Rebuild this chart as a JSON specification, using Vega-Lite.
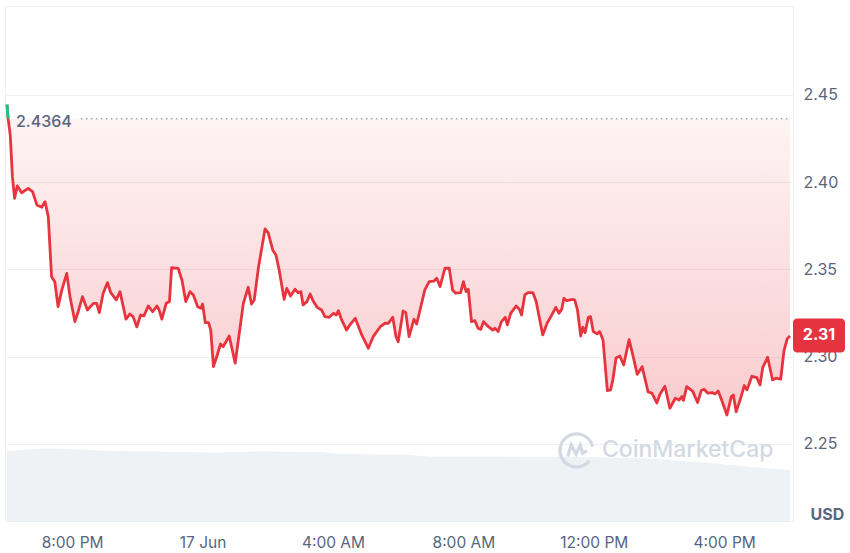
{
  "$schema": "https://vega.github.io/schema/vega-lite/v6.json",
  "width": 788,
  "height": 515,
  "autosize": {"type": "none"},
  "padding": {"left": 5, "top": 6, "right": 57, "bottom": 32},
  "background": "white",
  "config": {"view": {"stroke": "#eef1f4", "strokeWidth": 1}, "font": "Inter"},
  "resolve": {"scale": {"y": "independent"}},
  "layer": [
    {
      "data": {"values": [
        {"t": "2025-06-16T18:00:00Z", "v": 70},
        {"t": "2025-06-16T19:06:00Z", "v": 72.5},
        {"t": "2025-06-16T19:56:00Z", "v": 72},
        {"t": "2025-06-16T20:51:00Z", "v": 70.5},
        {"t": "2025-06-16T22:23:00Z", "v": 69.5},
        {"t": "2025-06-17T00:23:00Z", "v": 68.5},
        {"t": "2025-06-17T01:46:00Z", "v": 69.5},
        {"t": "2025-06-17T03:40:00Z", "v": 69},
        {"t": "2025-06-17T04:13:00Z", "v": 67},
        {"t": "2025-06-17T06:09:00Z", "v": 66.5},
        {"t": "2025-06-17T06:58:00Z", "v": 64.5},
        {"t": "2025-06-17T11:53:00Z", "v": 64},
        {"t": "2025-06-17T13:34:00Z", "v": 62.5},
        {"t": "2025-06-17T14:33:00Z", "v": 60.5},
        {"t": "2025-06-17T15:34:00Z", "v": 58},
        {"t": "2025-06-17T16:51:00Z", "v": 54},
        {"t": "2025-06-17T17:43:00Z", "v": 52},
        {"t": "2025-06-17T18:01:00Z", "v": 51}
      ], "format": {"parse": {"t": "date"}}},
      "mark": {"type": "area", "color": "#eff2f5"},
      "encoding": {
        "x": {"field": "t", "type": "temporal",
          "scale": {"type": "utc", "domain": [{"year": 2025, "month": 6, "date": 16, "hours": 17, "minutes": 56, "seconds": 20, "utc": true}, {"year": 2025, "month": 6, "date": 17, "hours": 18, "minutes": 6, "seconds": 40, "utc": true}]},
          "axis": {
            "title": null, "grid": false, "domain": false, "ticks": false,
            "values": [
              {"year": 2025, "month": 6, "date": 16, "hours": 20, "utc": true},
              {"year": 2025, "month": 6, "date": 17, "hours": 0, "utc": true},
              {"year": 2025, "month": 6, "date": 17, "hours": 4, "utc": true},
              {"year": 2025, "month": 6, "date": 17, "hours": 8, "utc": true},
              {"year": 2025, "month": 6, "date": 17, "hours": 12, "utc": true},
              {"year": 2025, "month": 6, "date": 17, "hours": 16, "utc": true}
            ],
            "labelExpr": "utchours(datum.value) == 0 ? utcFormat(datum.value, '%-d %b') : utcFormat(datum.value, '%-I:%M %p')",
            "labelFontSize": 15.5, "labelColor": "#58667e", "labelPadding": 14, "labelFont": "Inter"
          }
        },
        "y": {"field": "v", "type": "quantitative", "scale": {"domain": [0, 515]}, "axis": null}
      }
    },
    {
      "layer": [
        {
          "data": {"values": [
{"t":"2025-06-16T18:00:00Z","p":2.4445},{"t":"2025-06-16T18:02:00Z","p":2.4366},{"t":"2025-06-16T18:06:00Z","p":2.4271},{"t":"2025-06-16T18:10:00Z","p":2.4032},{"t":"2025-06-16T18:14:00Z","p":2.3908},{"t":"2025-06-16T18:19:00Z","p":2.3979},{"t":"2025-06-16T18:27:00Z","p":2.3940},{"t":"2025-06-16T18:39:00Z","p":2.3965},{"t":"2025-06-16T18:47:00Z","p":2.3946},{"t":"2025-06-16T18:55:00Z","p":2.3870},
{"t":"2025-06-16T19:04:00Z","p":2.3857},{"t":"2025-06-16T19:10:00Z","p":2.3889},{"t":"2025-06-16T19:16:00Z","p":2.3803},{"t":"2025-06-16T19:22:00Z","p":2.3459},{"t":"2025-06-16T19:28:00Z","p":2.3430},{"t":"2025-06-16T19:34:00Z","p":2.3287},{"t":"2025-06-16T19:41:00Z","p":2.3383},{"t":"2025-06-16T19:50:00Z","p":2.3478},{"t":"2025-06-16T19:56:00Z","p":2.3344},{"t":"2025-06-16T20:05:00Z","p":2.3201},
{"t":"2025-06-16T20:11:00Z","p":2.3258},{"t":"2025-06-16T20:19:00Z","p":2.3344},{"t":"2025-06-16T20:28:00Z","p":2.3268},{"t":"2025-06-16T20:39:00Z","p":2.3306},{"t":"2025-06-16T20:45:00Z","p":2.3306},{"t":"2025-06-16T20:50:00Z","p":2.3253},{"t":"2025-06-16T20:57:00Z","p":2.3364},{"t":"2025-06-16T21:05:00Z","p":2.3425},{"t":"2025-06-16T21:11:00Z","p":2.3367},{"t":"2025-06-16T21:21:00Z","p":2.3326},
{"t":"2025-06-16T21:28:00Z","p":2.3373},{"t":"2025-06-16T21:39:00Z","p":2.3215},{"t":"2025-06-16T21:46:00Z","p":2.3245},{"t":"2025-06-16T21:52:00Z","p":2.3230},{"t":"2025-06-16T21:59:00Z","p":2.3171},{"t":"2025-06-16T22:06:00Z","p":2.3239},{"t":"2025-06-16T22:12:00Z","p":2.3234},{"t":"2025-06-16T22:20:00Z","p":2.3291},{"t":"2025-06-16T22:28:00Z","p":2.3258},{"t":"2025-06-16T22:36:00Z","p":2.3291},
{"t":"2025-06-16T22:40:00Z","p":2.3268},{"t":"2025-06-16T22:45:00Z","p":2.3215},{"t":"2025-06-16T22:53:00Z","p":2.3306},{"t":"2025-06-16T22:59:00Z","p":2.3316},{"t":"2025-06-16T23:03:00Z","p":2.3510},{"t":"2025-06-16T23:15:00Z","p":2.3507},{"t":"2025-06-16T23:22:00Z","p":2.3440},{"t":"2025-06-16T23:29:00Z","p":2.3316},{"t":"2025-06-16T23:37:00Z","p":2.3373},{"t":"2025-06-16T23:43:00Z","p":2.3354},
{"t":"2025-06-16T23:51:00Z","p":2.3287},{"t":"2025-06-16T23:57:00Z","p":2.3278},{"t":"2025-06-17T00:00:00Z","p":2.3302},{"t":"2025-06-17T00:05:00Z","p":2.3195},{"t":"2025-06-17T00:11:00Z","p":2.3195},{"t":"2025-06-17T00:15:00Z","p":2.3153},{"t":"2025-06-17T00:20:00Z","p":2.2943},{"t":"2025-06-17T00:27:00Z","p":2.3010},{"t":"2025-06-17T00:33:00Z","p":2.3073},{"t":"2025-06-17T00:38:00Z","p":2.3058},
{"t":"2025-06-17T00:49:00Z","p":2.3119},{"t":"2025-06-17T01:00:00Z","p":2.2963},{"t":"2025-06-17T01:15:00Z","p":2.3306},{"t":"2025-06-17T01:24:00Z","p":2.3398},{"t":"2025-06-17T01:30:00Z","p":2.3302},{"t":"2025-06-17T01:35:00Z","p":2.3325},{"t":"2025-06-17T01:43:00Z","p":2.3516},{"t":"2025-06-17T01:55:00Z","p":2.3733},{"t":"2025-06-17T02:01:00Z","p":2.3708},{"t":"2025-06-17T02:09:00Z","p":2.3612},
{"t":"2025-06-17T02:15:00Z","p":2.3583},{"t":"2025-06-17T02:21:00Z","p":2.3497},{"t":"2025-06-17T02:30:00Z","p":2.3329},{"t":"2025-06-17T02:35:00Z","p":2.3392},{"t":"2025-06-17T02:42:00Z","p":2.3348},{"t":"2025-06-17T02:50:00Z","p":2.3387},{"t":"2025-06-17T02:56:00Z","p":2.3367},{"t":"2025-06-17T03:01:00Z","p":2.3373},{"t":"2025-06-17T03:05:00Z","p":2.3297},{"t":"2025-06-17T03:12:00Z","p":2.3316},
{"t":"2025-06-17T03:18:00Z","p":2.3360},{"t":"2025-06-17T03:24:00Z","p":2.3316},{"t":"2025-06-17T03:31:00Z","p":2.3283},{"t":"2025-06-17T03:39:00Z","p":2.3268},{"t":"2025-06-17T03:45:00Z","p":2.3230},{"t":"2025-06-17T03:53:00Z","p":2.3226},{"t":"2025-06-17T04:01:00Z","p":2.3249},{"t":"2025-06-17T04:06:00Z","p":2.3239},{"t":"2025-06-17T04:10:00Z","p":2.3264},{"t":"2025-06-17T04:16:00Z","p":2.3211},
{"t":"2025-06-17T04:25:00Z","p":2.3153},{"t":"2025-06-17T04:31:00Z","p":2.3182},{"t":"2025-06-17T04:41:00Z","p":2.3220},{"t":"2025-06-17T04:53:00Z","p":2.3125},{"t":"2025-06-17T05:05:00Z","p":2.3049},{"t":"2025-06-17T05:14:00Z","p":2.3115},{"t":"2025-06-17T05:27:00Z","p":2.3172},{"t":"2025-06-17T05:36:00Z","p":2.3192},{"t":"2025-06-17T05:42:00Z","p":2.3192},{"t":"2025-06-17T05:50:00Z","p":2.3226},
{"t":"2025-06-17T05:56:00Z","p":2.3115},{"t":"2025-06-17T06:00:00Z","p":2.3086},{"t":"2025-06-17T06:09:00Z","p":2.3262},{"t":"2025-06-17T06:14:00Z","p":2.3253},{"t":"2025-06-17T06:20:00Z","p":2.3115},{"t":"2025-06-17T06:29:00Z","p":2.3215},{"t":"2025-06-17T06:34:00Z","p":2.3188},{"t":"2025-06-17T06:41:00Z","p":2.3278},{"t":"2025-06-17T06:49:00Z","p":2.3383},{"t":"2025-06-17T06:57:00Z","p":2.3430},
{"t":"2025-06-17T07:06:00Z","p":2.3434},{"t":"2025-06-17T07:11:00Z","p":2.3450},{"t":"2025-06-17T07:17:00Z","p":2.3402},{"t":"2025-06-17T07:26:00Z","p":2.3507},{"t":"2025-06-17T07:34:00Z","p":2.3507},{"t":"2025-06-17T07:40:00Z","p":2.3383},{"t":"2025-06-17T07:46:00Z","p":2.3364},{"t":"2025-06-17T07:55:00Z","p":2.3367},{"t":"2025-06-17T08:00:00Z","p":2.3430},{"t":"2025-06-17T08:05:00Z","p":2.3373},
{"t":"2025-06-17T08:09:00Z","p":2.3387},{"t":"2025-06-17T08:15:00Z","p":2.3201},{"t":"2025-06-17T08:21:00Z","p":2.3207},{"t":"2025-06-17T08:27:00Z","p":2.3163},{"t":"2025-06-17T08:32:00Z","p":2.3157},{"t":"2025-06-17T08:37:00Z","p":2.3201},{"t":"2025-06-17T08:46:00Z","p":2.3172},{"t":"2025-06-17T08:54:00Z","p":2.3153},{"t":"2025-06-17T08:58:00Z","p":2.3163},{"t":"2025-06-17T09:04:00Z","p":2.3144},
{"t":"2025-06-17T09:10:00Z","p":2.3201},{"t":"2025-06-17T09:17:00Z","p":2.3226},{"t":"2025-06-17T09:21:00Z","p":2.3182},{"t":"2025-06-17T09:27:00Z","p":2.3249},{"t":"2025-06-17T09:37:00Z","p":2.3291},{"t":"2025-06-17T09:43:00Z","p":2.3272},{"t":"2025-06-17T09:47:00Z","p":2.3239},{"t":"2025-06-17T09:53:00Z","p":2.3354},{"t":"2025-06-17T09:59:00Z","p":2.3367},{"t":"2025-06-17T10:08:00Z","p":2.3367},
{"t":"2025-06-17T10:14:00Z","p":2.3316},{"t":"2025-06-17T10:26:00Z","p":2.3125},{"t":"2025-06-17T10:34:00Z","p":2.3192},{"t":"2025-06-17T10:41:00Z","p":2.3230},{"t":"2025-06-17T10:45:00Z","p":2.3253},{"t":"2025-06-17T10:50:00Z","p":2.3283},{"t":"2025-06-17T10:56:00Z","p":2.3249},{"t":"2025-06-17T11:01:00Z","p":2.3272},{"t":"2025-06-17T11:05:00Z","p":2.3335},{"t":"2025-06-17T11:10:00Z","p":2.3321},
{"t":"2025-06-17T11:21:00Z","p":2.3329},{"t":"2025-06-17T11:25:00Z","p":2.3325},{"t":"2025-06-17T11:30:00Z","p":2.3268},{"t":"2025-06-17T11:36:00Z","p":2.3119},{"t":"2025-06-17T11:40:00Z","p":2.3169},{"t":"2025-06-17T11:44:00Z","p":2.3138},{"t":"2025-06-17T11:50:00Z","p":2.3226},{"t":"2025-06-17T11:54:00Z","p":2.3230},{"t":"2025-06-17T11:59:00Z","p":2.3144},{"t":"2025-06-17T12:06:00Z","p":2.3131},
{"t":"2025-06-17T12:11:00Z","p":2.3144},{"t":"2025-06-17T12:17:00Z","p":2.3096},{"t":"2025-06-17T12:25:00Z","p":2.2806},{"t":"2025-06-17T12:31:00Z","p":2.2810},{"t":"2025-06-17T12:35:00Z","p":2.2867},{"t":"2025-06-17T12:41:00Z","p":2.2993},{"t":"2025-06-17T12:48:00Z","p":2.3004},{"t":"2025-06-17T12:55:00Z","p":2.2953},{"t":"2025-06-17T13:05:00Z","p":2.3098},{"t":"2025-06-17T13:14:00Z","p":2.2981},
{"t":"2025-06-17T13:20:00Z","p":2.2899},{"t":"2025-06-17T13:29:00Z","p":2.2943},{"t":"2025-06-17T13:40:00Z","p":2.2798},{"t":"2025-06-17T13:47:00Z","p":2.2792},{"t":"2025-06-17T13:56:00Z","p":2.2735},{"t":"2025-06-17T14:02:00Z","p":2.2787},{"t":"2025-06-17T14:11:00Z","p":2.2831},{"t":"2025-06-17T14:20:00Z","p":2.2705},{"t":"2025-06-17T14:30:00Z","p":2.2762},{"t":"2025-06-17T14:37:00Z","p":2.2752},
{"t":"2025-06-17T14:42:00Z","p":2.2772},{"t":"2025-06-17T14:45:00Z","p":2.2750},{"t":"2025-06-17T14:51:00Z","p":2.2829},{"t":"2025-06-17T15:02:00Z","p":2.2803},{"t":"2025-06-17T15:11:00Z","p":2.2738},{"t":"2025-06-17T15:18:00Z","p":2.2807},{"t":"2025-06-17T15:23:00Z","p":2.2814},{"t":"2025-06-17T15:30:00Z","p":2.2791},{"t":"2025-06-17T15:38:00Z","p":2.2795},{"t":"2025-06-17T15:43:00Z","p":2.2787},
{"t":"2025-06-17T15:49:00Z","p":2.2804},{"t":"2025-06-17T15:57:00Z","p":2.2738},{"t":"2025-06-17T16:05:00Z","p":2.2666},{"t":"2025-06-17T16:13:00Z","p":2.2770},{"t":"2025-06-17T16:17:00Z","p":2.2781},{"t":"2025-06-17T16:22:00Z","p":2.2685},{"t":"2025-06-17T16:29:00Z","p":2.2749},{"t":"2025-06-17T16:37:00Z","p":2.2835},{"t":"2025-06-17T16:42:00Z","p":2.2810},{"t":"2025-06-17T16:51:00Z","p":2.2888},
{"t":"2025-06-17T17:00:00Z","p":2.2880},{"t":"2025-06-17T17:06:00Z","p":2.2838},{"t":"2025-06-17T17:11:00Z","p":2.2939},{"t":"2025-06-17T17:20:00Z","p":2.2997},{"t":"2025-06-17T17:29:00Z","p":2.2867},{"t":"2025-06-17T17:35:00Z","p":2.2877},{"t":"2025-06-17T17:44:00Z","p":2.2871},{"t":"2025-06-17T17:50:00Z","p":2.3033},{"t":"2025-06-17T17:56:00Z","p":2.3102},{"t":"2025-06-17T18:01:00Z","p":2.3120}
          ], "format": {"parse": {"t": "date"}}},
          "layer": [
            {
              "mark": {"type": "area", "color": {"gradient": "linear", "x1": 0, "y1": 0, "x2": 0, "y2": 1, "stops": [{"offset": 0, "color": "rgba(234,57,67,0.05)"}, {"offset": 1, "color": "rgba(234,57,67,0.26)"}]}},
              "encoding": {
                "x": {"field": "t", "type": "temporal", "scale": {"type": "utc", "domain": [{"year": 2025, "month": 6, "date": 16, "hours": 17, "minutes": 56, "seconds": 20, "utc": true}, {"year": 2025, "month": 6, "date": 17, "hours": 18, "minutes": 6, "seconds": 40, "utc": true}]}},
                "y": {"field": "p", "type": "quantitative", "scale": {"domain": [2.20587, 2.501], "zero": false, "nice": false},
                  "axis": {"orient": "right", "values": [2.25, 2.3, 2.35, 2.4, 2.45], "format": ".2f", "grid": true, "gridColor": "#eef1f4", "gridWidth": 1, "domain": false, "ticks": false, "labelFontSize": 16, "labelColor": "#58667e", "labelPadding": 10, "labelFont": "Inter",
                    "title": "USD", "titleAngle": 0, "titleX": 17, "titleY": 508, "titleAlign": "left", "titleBaseline": "middle", "titleFontSize": 16, "titleFontWeight": "bold", "titleColor": "#58667e", "titleFont": "Inter"}},
                "y2": {"datum": 2.4364}
              }
            },
            {
              "mark": {"type": "line", "color": "#e8343f", "strokeWidth": 2.8, "strokeJoin": "round"},
              "encoding": {
                "x": {"field": "t", "type": "temporal"},
                "y": {"field": "p", "type": "quantitative"}
              }
            },
            {
              "transform": [{"filter": {"field": "t", "lte": {"year": 2025, "month": 6, "date": 16, "hours": 18, "minutes": 2, "utc": true}}}],
              "mark": {"type": "line", "color": "#16c784", "strokeWidth": 2.8},
              "encoding": {
                "x": {"field": "t", "type": "temporal"},
                "y": {"field": "p", "type": "quantitative"}
              }
            }
          ]
        },
        {
          "data": {"values": [{}]},
          "mark": {"type": "rule", "color": "#9aa4b5", "strokeWidth": 1.5, "strokeDash": [1.5, 3.5]},
          "encoding": {
            "x": {"datum": {"year": 2025, "month": 6, "date": 16, "hours": 20, "minutes": 16, "utc": true}, "type": "temporal"},
            "x2": {"datum": {"year": 2025, "month": 6, "date": 17, "hours": 18, "minutes": 2, "utc": true}},
            "y": {"datum": 2.4364, "type": "quantitative"}
          }
        },
        {
          "data": {"values": [{}]},
          "mark": {"type": "text", "text": "2.4364", "align": "left", "baseline": "middle", "dy": 3, "fontSize": 16, "fontWeight": 500, "color": "#58667e", "font": "Inter"},
          "encoding": {
            "x": {"datum": {"year": 2025, "month": 6, "date": 16, "hours": 18, "minutes": 16, "seconds": 36, "utc": true}, "type": "temporal"},
            "y": {"datum": 2.4364, "type": "quantitative"}
          }
        },
        {
          "data": {"values": [{}]},
          "mark": {"type": "text", "text": "CoinMarketCap", "align": "left", "baseline": "middle", "fontSize": 23, "fontWeight": 500, "color": "#d3d9e2", "font": "Inter"},
          "encoding": {
            "x": {"datum": {"year": 2025, "month": 6, "date": 17, "hours": 12, "minutes": 15, "utc": true}, "type": "temporal"},
            "y": {"datum": 2.2466, "type": "quantitative"}
          }
        },
        {
          "data": {"values": [{}]},
          "mark": {"type": "point", "shape": "M0.75,0.66 A1,1,0,1,1,0.95,-0.2 M-0.55,0.4 L-0.35,-0.3 L-0.05,0.25 L0.2,-0.3 L0.35,0.2 L0.6,0.05", "size": 1100, "filled": false, "stroke": "#d3d9e2", "strokeWidth": 3.2, "opacity": 1},
          "encoding": {
            "x": {"datum": {"year": 2025, "month": 6, "date": 17, "hours": 11, "minutes": 29, "utc": true}, "type": "temporal"},
            "y": {"datum": 2.2466, "type": "quantitative"}
          }
        },
        {
          "data": {"values": [{}]},
          "mark": {"type": "rect", "color": "#e5343f", "cornerRadius": 4, "x2Offset": 52, "yOffset": -17, "y2Offset": 17},
          "encoding": {
            "x": {"datum": {"year": 2025, "month": 6, "date": 17, "hours": 18, "minutes": 6, "seconds": 40, "utc": true}, "type": "temporal"},
            "x2": {"datum": {"year": 2025, "month": 6, "date": 17, "hours": 18, "minutes": 6, "seconds": 40, "utc": true}},
            "y": {"datum": 2.3122, "type": "quantitative"},
            "y2": {"datum": 2.3122}
          }
        },
        {
          "data": {"values": [{}]},
          "mark": {"type": "text", "text": "2.31", "align": "center", "baseline": "middle", "dx": 26, "fontSize": 16, "fontWeight": "bold", "color": "white", "font": "Inter"},
          "encoding": {
            "x": {"datum": {"year": 2025, "month": 6, "date": 17, "hours": 18, "minutes": 6, "seconds": 40, "utc": true}, "type": "temporal"},
            "y": {"datum": 2.3122, "type": "quantitative"}
          }
        }
      ]
    }
  ]
}
